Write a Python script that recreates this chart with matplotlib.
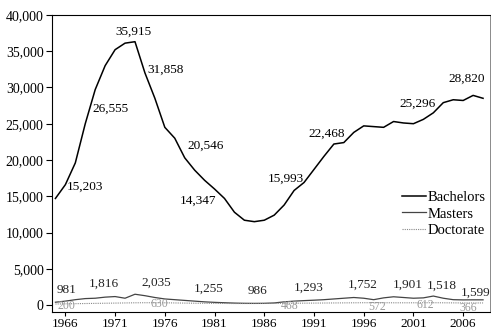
import matplotlib
matplotlib.use("Agg")
import matplotlib.pyplot as plt
from matplotlib.ticker import FuncFormatter

plt.rcParams["font.family"] = ["Liberation Serif", "DejaVu Serif"]

years = list(range(1965, 2009))

bachelors = [
    14700, 16600, 19600, 25000, 29700, 33000, 35200, 36100, 36300, 32000,
    28500, 24500, 23000, 20300, 18600, 17200, 16000, 14700, 12800, 11700,
    11500, 11700, 12400, 13800, 15800, 16900, 18700, 20500, 22200, 22400,
    23800, 24700, 24600, 24500, 25300, 25100, 25000, 25600, 26500, 27900,
    28300, 28200, 28900, 28500,
]
masters = [
    400, 550, 750, 900, 950, 1100, 1180, 950, 1500, 1300,
    1050, 850, 750, 650, 550, 450, 380, 330, 280, 250,
    240, 250, 300, 450, 550, 620, 680, 750, 850, 950,
    1050, 950, 750, 1000, 1150, 1050, 950, 1000, 1250, 950,
    750, 720, 730, 730,
]
doctorate = [
    150, 180, 200, 220, 240, 260, 280, 300, 320, 330,
    330, 320, 300, 280, 260, 250, 240, 230, 220, 220,
    220, 230, 240, 250, 260, 270, 280, 290, 300, 310,
    320, 330, 330, 330, 320, 320, 320, 330, 330, 320,
    310, 300, 300, 300,
]

# value labels: (text, year, value)
bach_labels = [
    ("15,203", 1968.0, 16360), ("26,555", 1970.5, 27080),
    ("35,915", 1972.8, 37700), ("31,858", 1976.1, 32440),
    ("20,546", 1980.1, 21990), ("14,347", 1979.3, 14340),
    ("15,993", 1988.2, 17460), ("22,468", 1992.3, 23600),
    ("25,296", 2001.4, 27720), ("28,820", 2006.4, 31160),
]
mast_labels = [
    ("981", 1966.1, 2060), ("1,816", 1969.9, 2890), ("2,035", 1975.1, 3020),
    ("1,255", 1980.4, 2290), ("986", 1985.3, 1970), ("1,293", 1990.5, 2430),
    ("1,752", 1995.9, 2790), ("1,901", 2000.4, 2790), ("1,518", 2003.8, 2650),
    ("1,599", 2007.2, 1650),
]
doc_labels = [
    ("200", 1966.1, -70), ("630", 1975.5, 140), ("468", 1988.6, -140),
    ("572", 1997.3, -270), ("612", 2002.2, 0), ("366", 2006.5, -410),
]
xticks = [1966, 1971, 1976, 1981, 1986, 1991, 1996, 2001, 2006]
yticks = list(range(0, 40001, 5000))

fig = plt.figure(figsize=(4.91, 3.30), dpi=100)
ax = fig.add_axes([0.106, 0.0545, 0.892, 0.9005])

ax.plot(years, bachelors, color="black", lw=1.1, label="Bachelors")
ax.plot(years, masters, color="#444444", lw=0.9, label="Masters")
ax.plot(years, doctorate, color="#888888", lw=0.8, ls=(0, (1, 1)), label="Doctorate")

for txt, x, y in bach_labels:
    ax.text(x, y, txt, ha="center", va="center", fontsize=9.5, color="black")
for txt, x, y in mast_labels:
    ax.text(x, y, txt, ha="center", va="center", fontsize=9.5, color="#222222")
for txt, x, y in doc_labels:
    ax.text(x, y, txt, ha="center", va="center", fontsize=8.5, color="#999999")

ax.set_xlim(1964.66, 2008.7)
ax.set_ylim(-950, 40000)
ax.set_xticks(xticks)
ax.set_yticks(yticks)
ax.yaxis.set_major_formatter(FuncFormatter(lambda v, p: f"{int(v):,}"))
ax.tick_params(axis="y", direction="out", length=4, width=0.8,
               labelsize=10, colors="black", pad=2)
ax.tick_params(axis="x", direction="out", length=3, width=0.8,
               labelsize=9.5, colors="black", pad=1)

for side in ["left", "bottom", "top"]:
    ax.spines[side].set_color("black")
    ax.spines[side].set_linewidth(0.8)
ax.spines["right"].set_color("#777777")
ax.spines["right"].set_linewidth(0.6)

ax.legend(loc="upper left", bbox_to_anchor=(0.799, 0.409), frameon=False,
          fontsize=10.5, handlelength=1.65, handletextpad=0.1,
          labelspacing=0.25, borderpad=0, borderaxespad=0)

fig.savefig("out.png", dpi=100)
